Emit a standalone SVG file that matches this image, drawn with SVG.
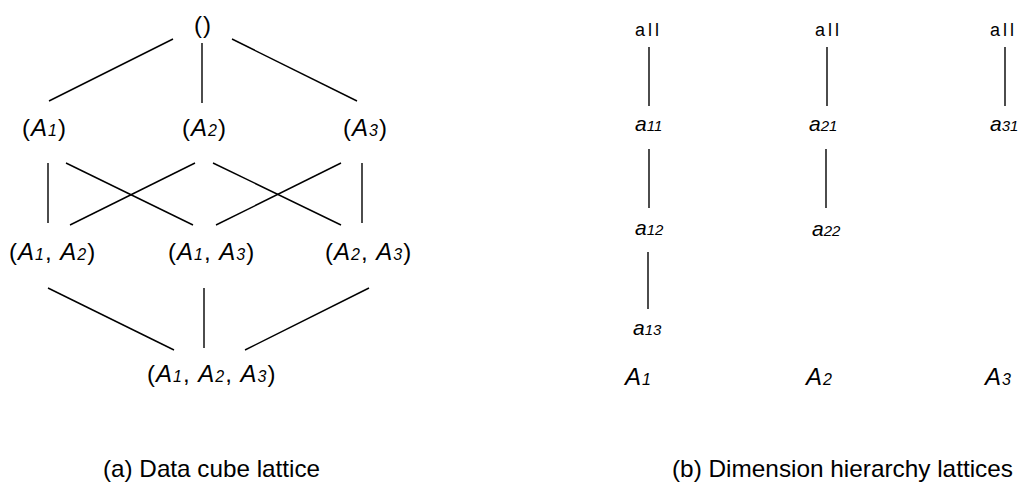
<svg xmlns="http://www.w3.org/2000/svg" width="1026" height="486" viewBox="0 0 1026 486">
<style>
text{font-family:"Liberation Sans",Arial,sans-serif;fill:#000}
.n{font-size:24px;letter-spacing:1px}
.i{font-style:italic}
.s{font-size:16px;font-style:italic}
.all{font-size:18px;letter-spacing:3px}
.a{font-size:21px;font-style:italic}
.as{font-size:15px;font-style:italic}
.cap{font-size:24px}
.e line{stroke:#000;stroke-width:1.4}
</style>
<rect width="1026" height="486" fill="#fff"/>
<g id="connectors" class="e">
<line x1="173" y1="39" x2="49" y2="101"/>
<line x1="202" y1="43" x2="202" y2="103"/>
<line x1="232" y1="39" x2="357" y2="101"/>
<line x1="48" y1="163" x2="48" y2="223"/>
<line x1="66" y1="163" x2="193" y2="225"/>
<line x1="195" y1="163" x2="70" y2="225"/>
<line x1="213" y1="163" x2="341" y2="225"/>
<line x1="341" y1="163" x2="216" y2="225"/>
<line x1="362" y1="163" x2="362" y2="223"/>
<line x1="48" y1="288" x2="174" y2="350"/>
<line x1="204" y1="288" x2="204" y2="348"/>
<line x1="369" y1="288" x2="245" y2="350"/>
<line x1="649" y1="47" x2="649" y2="106"/>
<line x1="649" y1="149" x2="649" y2="208"/>
<line x1="648" y1="252" x2="648" y2="309"/>
<line x1="827" y1="47" x2="827" y2="106"/>
<line x1="826" y1="149" x2="826" y2="208"/>
<line x1="1005" y1="47" x2="1005" y2="106"/>
</g>
<g id="n_empty"><text class="n" x="194" y="33">()</text></g>
<g id="n_A1"><text class="n" x="22" y="136">(<tspan class="i">A</tspan><tspan class="s">1</tspan>)</text></g>
<g id="n_A2"><text class="n" x="182" y="136">(<tspan class="i">A</tspan><tspan class="s">2</tspan>)</text></g>
<g id="n_A3"><text class="n" x="343" y="136">(<tspan class="i">A</tspan><tspan class="s">3</tspan>)</text></g>
<g id="n_A1A2"><text class="n" x="9" y="260">(<tspan class="i">A</tspan><tspan class="s">1</tspan>, <tspan class="i">A</tspan><tspan class="s">2</tspan>)</text></g>
<g id="n_A1A3"><text class="n" x="168" y="260">(<tspan class="i">A</tspan><tspan class="s">1</tspan>, <tspan class="i">A</tspan><tspan class="s">3</tspan>)</text></g>
<g id="n_A2A3"><text class="n" x="325" y="260">(<tspan class="i">A</tspan><tspan class="s">2</tspan>, <tspan class="i">A</tspan><tspan class="s">3</tspan>)</text></g>
<g id="n_A1A2A3"><text class="n" x="147" y="382">(<tspan class="i">A</tspan><tspan class="s">1</tspan>, <tspan class="i">A</tspan><tspan class="s">2</tspan>, <tspan class="i">A</tspan><tspan class="s">3</tspan>)</text></g>
<g id="h1_all"><text class="all" x="635" y="36">all</text></g>
<g id="h2_all"><text class="all" x="815" y="36">all</text></g>
<g id="h3_all"><text class="all" x="990" y="36">all</text></g>
<g id="h_a11"><text class="a" x="635" y="131">a<tspan class="as">11</tspan></text></g>
<g id="h_a12"><text class="a" x="635" y="235">a<tspan class="as">12</tspan></text></g>
<g id="h_a13"><text class="a" x="633" y="335">a<tspan class="as">13</tspan></text></g>
<g id="h_a21"><text class="a" x="809" y="131">a<tspan class="as">21</tspan></text></g>
<g id="h_a22"><text class="a" x="812" y="236">a<tspan class="as">22</tspan></text></g>
<g id="h_a31"><text class="a" x="990" y="131">a<tspan class="as">31</tspan></text></g>
<g id="lab_A1"><text class="n i" x="625" y="385">A<tspan class="s">1</tspan></text></g>
<g id="lab_A2"><text class="n i" x="806" y="385">A<tspan class="s">2</tspan></text></g>
<g id="lab_A3"><text class="n i" x="985" y="385">A<tspan class="s">3</tspan></text></g>
<g id="caption_a"><text class="cap" x="103" y="477" textLength="217" lengthAdjust="spacingAndGlyphs">(a) Data cube lattice</text></g>
<g id="caption_b"><text class="cap" x="672" y="477" textLength="341" lengthAdjust="spacingAndGlyphs">(b) Dimension hierarchy lattices</text></g>
</svg>
